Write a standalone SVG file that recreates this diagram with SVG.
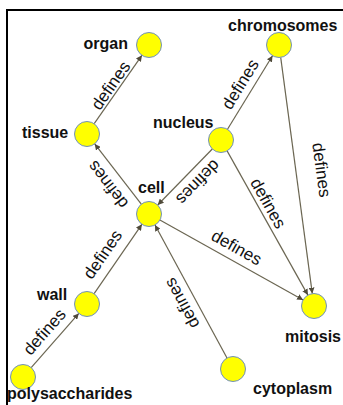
<svg xmlns="http://www.w3.org/2000/svg" width="343" height="405" viewBox="0 0 343 405">
<style>
.node circle{fill:#ffff00;stroke:#6f8fbf;stroke-width:1}
.nl{font-family:"Liberation Sans",Arial,sans-serif;font-weight:bold;font-size:16px;fill:#111}
.edge line{stroke:#6b6652;stroke-width:1.2;marker-end:url(#ah)}
.el{font-family:"Liberation Sans",Arial,sans-serif;font-size:17px;fill:#111;text-anchor:middle}
</style>
<defs>
<marker id="ah" viewBox="0 0 10 10" refX="10" refY="5" markerWidth="6" markerHeight="6" orient="auto" markerUnits="userSpaceOnUse">
<path d="M0,0 L10,5 L0,10 z" fill="#4f4a3a"/>
</marker>
</defs>
<rect x="7" y="10" width="400" height="450" fill="none" stroke="#000" stroke-width="2"/>
<g id="connectors">
<g class="edge" id="e1"><line x1="94.2" y1="123.7" x2="141.9" y2="55.3"/><text class="el" transform="translate(117.4,90.3) rotate(-55.1)" y="-2.5">defines</text></g>
<g class="edge" id="e2"><line x1="227.5" y1="129.3" x2="272.5" y2="55.7"/><text class="el" transform="translate(251,90.9) rotate(-58.6)" y="-7">defines</text></g>
<g class="edge" id="e3"><line x1="141.3" y1="204.1" x2="94.7" y2="143.9"/><text class="el" transform="translate(119.4,175.8) rotate(-127.8)" y="-9">defines</text></g>
<g class="edge" id="e4"><line x1="212.3" y1="149" x2="157.7" y2="205"/><text class="el" transform="translate(188.7,173.2) rotate(134.2)" y="-7.5">defines</text></g>
<g class="edge" id="e5"><line x1="227.1" y1="150.9" x2="307.9" y2="295.1"/><text class="el" transform="translate(259.3,208.3) rotate(60.7)" y="-4.5">defines</text></g>
<g class="edge" id="e6"><line x1="280.7" y1="57.4" x2="312.3" y2="293.6"/><text class="el" transform="translate(296.2,173.4) rotate(82.4)" y="-19.9">defines</text></g>
<g class="edge" id="e7"><line x1="159.9" y1="220.1" x2="303.1" y2="299.9"/><text class="el" transform="translate(230.1,259.2) rotate(29.1)" y="-7.7">defines</text></g>
<g class="edge" id="e8"><line x1="94.1" y1="293.7" x2="141.9" y2="224.3"/><text class="el" transform="translate(115.2,263) rotate(-55.4)" y="-9.5">defines</text></g>
<g class="edge" id="e9"><line x1="31.2" y1="367.6" x2="78.8" y2="313.4"/><text class="el" transform="translate(54.7,340.8) rotate(-48.8)" y="-8">defines</text></g>
<g class="edge" id="e10"><line x1="227" y1="358" x2="155" y2="225"/><text class="el" transform="translate(193.9,296.7) rotate(-118.5)" y="-8">defines</text></g>
</g>
<g class="node" id="organ"><circle cx="149" cy="45" r="12.5"/><text class="nl" x="128" y="49" text-anchor="end">organ</text></g>
<g class="node" id="chromosomes"><circle cx="279" cy="45" r="12.5"/><text class="nl" x="228" y="31">chromosomes</text></g>
<g class="node" id="tissue"><circle cx="87" cy="134" r="12.5"/><text class="nl" x="22" y="138">tissue</text></g>
<g class="node" id="nucleus"><circle cx="221" cy="140" r="12.5"/><text class="nl" x="153" y="128">nucleus</text></g>
<g class="node" id="cell"><circle cx="149" cy="214" r="12.5"/><text class="nl" x="138" y="193">cell</text></g>
<g class="node" id="wall"><circle cx="87" cy="304" r="12.5"/><text class="nl" x="37" y="300">wall</text></g>
<g class="node" id="mitosis"><circle cx="314" cy="306" r="12.5"/><text class="nl" x="285" y="342">mitosis</text></g>
<g class="node" id="polysaccharides"><circle cx="23" cy="377" r="12.5"/><text class="nl" x="7" y="399">polysaccharides</text></g>
<g class="node" id="cytoplasm"><circle cx="233" cy="369" r="12.5"/><text class="nl" x="253" y="394">cytoplasm</text></g>
</svg>
